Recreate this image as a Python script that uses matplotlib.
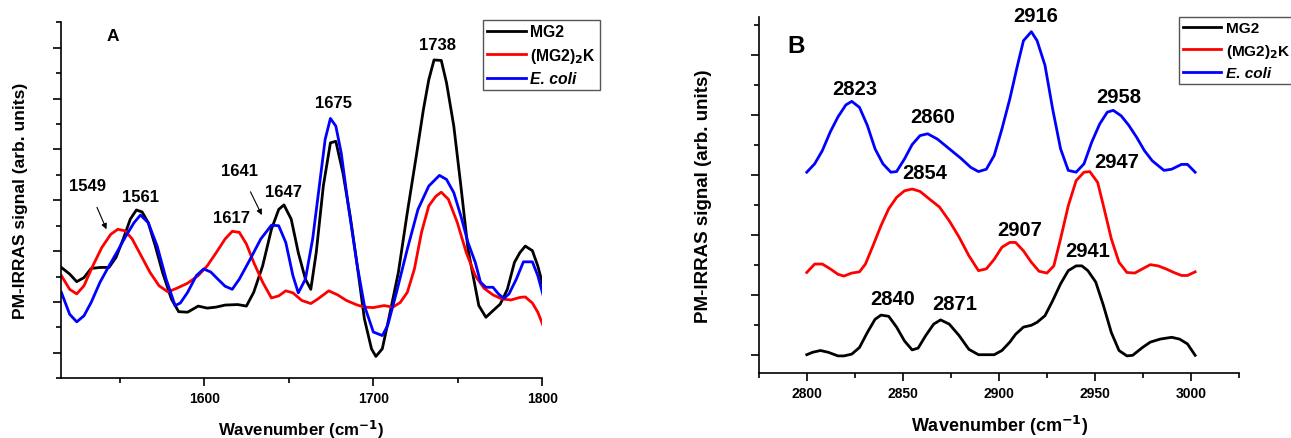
import matplotlib.pyplot as plt
from matplotlib.ticker import MultipleLocator

plt.rcParams['font.family'] = ['Liberation Sans', 'DejaVu Sans']
plt.rcParams['font.weight'] = 'bold'
plt.rcParams['mathtext.default'] = 'regular'

# Panel A: amide / ester region (1515-1800 cm-1)
a_wn_mg2 = [1515.4, 1520.3, 1524.5, 1528.8, 1533.0, 1538.3, 1543.6, 1547.8, 1552.0, 1556.2,
            1559.8, 1563.2, 1566.8, 1571.0, 1575.3, 1580.5, 1584.8, 1590.1, 1596.4, 1601.7,
            1607.0, 1612.3, 1619.7, 1624.9, 1629.2, 1634.5, 1639.7, 1644.0, 1647.1, 1651.4,
            1655.6, 1659.8, 1663.0, 1666.2, 1670.4, 1674.6, 1677.8, 1682.0, 1686.3, 1690.5,
            1694.7, 1698.9, 1701.5, 1705.3, 1709.5, 1714.8, 1720.1, 1725.4, 1729.6, 1732.8,
            1735.9, 1740.2, 1743.3, 1747.6, 1751.8, 1756.0, 1762.4, 1766.6, 1770.8, 1775.1,
            1779.3, 1783.5, 1786.7, 1789.9, 1794.1, 1797.3, 1800.4]
a_mg2 = [1.68, 1.55, 1.40, 1.48, 1.66, 1.68, 1.68, 1.88, 2.24, 2.63,
         2.81, 2.77, 2.56, 2.10, 1.58, 1.06, 0.81, 0.80, 0.92, 0.88,
         0.90, 0.94, 0.95, 0.92, 1.19, 1.71, 2.43, 2.82, 2.91, 2.63,
         1.97, 1.45, 1.25, 1.97, 3.28, 4.13, 4.16, 3.54, 2.69, 1.71,
         0.67, 0.08, -0.07, 0.08, 0.73, 1.58, 2.76, 3.87, 4.78, 5.37,
         5.76, 5.75, 5.31, 4.46, 3.28, 2.04, 0.93, 0.70, 0.83, 0.96,
         1.25, 1.78, 1.97, 2.10, 2.01, 1.71, 1.32]

a_wn_k = [1515.4, 1520.3, 1524.5, 1528.8, 1534.0, 1539.3, 1544.6, 1548.8, 1553.1, 1557.3,
          1562.6, 1567.9, 1573.2, 1578.4, 1583.7, 1590.1, 1596.4, 1601.7, 1607.0, 1612.3,
          1616.5, 1620.7, 1624.9, 1629.2, 1634.5, 1639.7, 1644.0, 1648.2, 1652.4, 1657.7,
          1663.0, 1667.2, 1673.6, 1678.9, 1684.1, 1690.5, 1694.7, 1700.0, 1706.3, 1711.6,
          1715.9, 1720.1, 1724.3, 1728.5, 1732.8, 1737.0, 1740.2, 1744.4, 1749.7, 1755.0,
          1760.3, 1765.5, 1770.8, 1776.1, 1781.4, 1786.7, 1789.9, 1794.1, 1797.3, 1800.4]
a_k = [1.52, 1.25, 1.16, 1.32, 1.71, 2.07, 2.33, 2.43, 2.40, 2.24,
       1.91, 1.58, 1.32, 1.20, 1.27, 1.37, 1.52, 1.71, 1.97, 2.24,
       2.39, 2.37, 2.14, 1.78, 1.39, 1.08, 1.12, 1.22, 1.18, 1.03,
       0.97, 1.06, 1.22, 1.14, 1.03, 0.94, 0.90, 0.89, 0.93, 0.90,
       0.99, 1.19, 1.65, 2.37, 2.89, 3.08, 3.16, 3.02, 2.56, 1.97,
       1.52, 1.27, 1.14, 1.06, 1.04, 1.09, 1.10, 0.98, 0.80, 0.54]

a_wn_ecoli = [1515.4, 1520.3, 1524.5, 1528.8, 1533.0, 1538.3, 1543.6, 1548.8, 1553.1, 1558.4,
              1562.2, 1566.8, 1572.1, 1577.4, 1582.7, 1585.8, 1590.1, 1595.3, 1599.6, 1603.8,
              1608.0, 1612.3, 1616.5, 1620.7, 1627.1, 1633.4, 1639.7, 1644.0, 1648.2, 1652.4,
              1655.6, 1659.8, 1664.1, 1668.3, 1671.5, 1674.6, 1677.8, 1681.0, 1685.2, 1690.5,
              1694.7, 1700.0, 1705.3, 1708.5, 1713.7, 1720.1, 1726.4, 1732.8, 1739.1, 1743.3,
              1747.6, 1751.8, 1756.0, 1760.3, 1763.4, 1766.6, 1770.8, 1774.0, 1777.2, 1780.3,
              1784.6, 1788.8, 1794.1, 1797.3, 1800.4]
a_ecoli = [1.19, 0.76, 0.61, 0.73, 0.99, 1.39, 1.71, 2.01, 2.27, 2.56,
           2.71, 2.56, 2.10, 1.45, 0.93, 0.98, 1.19, 1.52, 1.65, 1.59,
           1.45, 1.31, 1.25, 1.45, 1.84, 2.24, 2.51, 2.50, 2.17, 1.52,
           1.18, 1.45, 2.24, 3.35, 4.20, 4.61, 4.46, 3.93, 2.89, 1.71,
           0.93, 0.41, 0.34, 0.54, 1.19, 2.04, 2.82, 3.28, 3.49, 3.41,
           3.15, 2.69, 2.17, 1.78, 1.39, 1.29, 1.29, 1.16, 1.07, 1.16,
           1.45, 1.79, 1.79, 1.52, 1.14]

# peak labels panel A: (text, x, y)
a_labels = [('1738', 1738.0, 6.06), ('1675', 1676.7, 4.93), ('1647', 1646.7, 3.18),
            ('1617', 1616.1, 2.66), ('1561', 1562.2, 3.07)]
# labels with arrows: (text, text x, text y, arrow tip x, arrow tip y)
a_arrows = [('1549', 1530.9, 3.29, 1542.1, 2.43), ('1641', 1621.1, 3.59, 1634.0, 2.71)]

# Panel B: CH stretching region (2800-3000 cm-1)
b_wn_mg2 = [2800.0, 2803.0, 2807.1, 2811.2, 2816.2, 2819.3, 2823.4, 2827.4, 2831.5, 2835.5,
            2838.6, 2842.6, 2846.7, 2850.8, 2854.8, 2857.9, 2861.9, 2866.0, 2869.6, 2874.1,
            2879.2, 2884.3, 2889.3, 2893.4, 2897.5, 2901.5, 2905.6, 2908.6, 2912.7, 2916.8,
            2919.8, 2923.9, 2927.9, 2932.0, 2936.0, 2940.1, 2943.1, 2946.2, 2950.3, 2954.3,
            2958.4, 2962.4, 2966.5, 2969.5, 2974.6, 2978.7, 2983.8, 2989.8, 2993.9, 2998.0,
            3002.0]
b_mg2 = [0.00, 0.04, 0.07, 0.04, -0.02, -0.02, 0.01, 0.12, 0.37, 0.59,
         0.66, 0.64, 0.46, 0.23, 0.08, 0.11, 0.32, 0.51, 0.58, 0.51,
         0.32, 0.09, 0.00, 0.00, 0.00, 0.07, 0.21, 0.34, 0.46, 0.49,
         0.54, 0.65, 0.90, 1.18, 1.40, 1.48, 1.48, 1.40, 1.21, 0.82,
         0.37, 0.07, -0.02, -0.01, 0.12, 0.21, 0.26, 0.29, 0.26, 0.18,
         -0.01]

b_wn_k = [2800.0, 2804.1, 2808.1, 2812.2, 2816.2, 2819.3, 2823.4, 2827.4, 2830.5, 2834.5,
          2838.6, 2842.6, 2846.7, 2850.8, 2854.8, 2858.9, 2863.9, 2869.0, 2874.1, 2879.2,
          2884.3, 2889.3, 2893.4, 2897.5, 2901.5, 2905.6, 2908.6, 2912.7, 2916.8, 2920.8,
          2924.9, 2928.5, 2932.0, 2936.0, 2940.1, 2944.2, 2947.2, 2951.3, 2954.3, 2958.4,
          2962.4, 2966.5, 2970.6, 2974.6, 2978.7, 2982.7, 2986.8, 2990.9, 2994.9, 2998.0,
          3002.0]
b_k = [1.37, 1.51, 1.51, 1.43, 1.34, 1.31, 1.36, 1.38, 1.51, 1.82,
       2.15, 2.43, 2.62, 2.73, 2.76, 2.72, 2.59, 2.46, 2.23, 1.96,
       1.65, 1.40, 1.43, 1.59, 1.79, 1.87, 1.87, 1.73, 1.54, 1.39,
       1.36, 1.48, 1.93, 2.48, 2.90, 3.04, 3.05, 2.87, 2.48, 1.93,
       1.54, 1.37, 1.36, 1.43, 1.50, 1.48, 1.43, 1.37, 1.32, 1.32,
       1.38]

b_wn_ecoli = [2800.0, 2804.1, 2808.1, 2812.2, 2816.2, 2820.3, 2823.4, 2827.4, 2831.5, 2835.5,
              2839.6, 2843.7, 2846.7, 2850.8, 2854.8, 2858.9, 2862.9, 2868.0, 2874.1, 2880.2,
              2885.3, 2889.3, 2893.4, 2897.5, 2901.5, 2905.6, 2909.6, 2912.7, 2916.8, 2919.8,
              2923.9, 2927.9, 2932.0, 2936.0, 2940.1, 2944.2, 2948.2, 2952.3, 2956.3, 2959.4,
              2963.5, 2967.5, 2971.6, 2975.6, 2979.7, 2985.8, 2989.8, 2994.9, 2998.0, 3002.0]
b_ecoli = [3.04, 3.18, 3.40, 3.71, 3.96, 4.16, 4.22, 4.12, 3.82, 3.43,
           3.18, 3.04, 3.05, 3.26, 3.50, 3.65, 3.68, 3.59, 3.43, 3.27,
           3.12, 3.05, 3.09, 3.32, 3.76, 4.26, 4.82, 5.23, 5.38, 5.23,
           4.82, 4.09, 3.43, 3.07, 3.04, 3.18, 3.54, 3.84, 4.04, 4.07,
           3.98, 3.82, 3.62, 3.40, 3.23, 3.07, 3.09, 3.17, 3.17, 3.04]

b_labels = [('2916', 2919.2, 5.65), ('2823', 2824.8, 4.44), ('2860', 2865.6, 3.97),
            ('2958', 2962.4, 4.30), ('2854', 2861.3, 3.03), ('2947', 2961.4, 3.21),
            ('2907', 2910.7, 2.09), ('2941', 2946.2, 1.73), ('2840', 2844.7, 0.93),
            ('2871', 2876.8, 0.86)]

names = ['MG2', r'(MG2)$_\mathbf{2}$K', 'E. coli']
colors = ['black', '#ff0000', '#0000ff']

fig = plt.figure(figsize=(12.91, 4.39), dpi=100)
axA = fig.add_axes([0.0470, 0.1360, 0.3731, 0.8109])
axB = fig.add_axes([0.5877, 0.1487, 0.3723, 0.8096])


def style_axes(ax, fs_x, fs_y, pad):
    ax.spines['top'].set_visible(False)
    ax.spines['right'].set_visible(False)
    for s in ['left', 'bottom']:
        ax.spines[s].set_linewidth(1.2)
    ax.yaxis.set_major_locator(MultipleLocator(1))
    ax.yaxis.set_minor_locator(MultipleLocator(0.5))
    ax.tick_params(axis='y', which='both', labelleft=False)
    ax.tick_params(which='major', direction='out', length=6, width=1.2, labelsize=10)
    ax.tick_params(which='minor', direction='out', length=3.5, width=1.2)
    ax.set_ylabel('PM-IRRAS signal (arb. units)', fontsize=fs_y, fontweight='bold')
    ax.set_xlabel(r'Wavenumber (cm$^{\mathbf{-1}}$)', fontsize=fs_x, fontweight='bold',
                  labelpad=pad)


def add_legend(ax, x, y, lines, fs):
    leg = ax.legend(lines, names, loc='upper left', bbox_to_anchor=(x, y), fontsize=fs,
                    frameon=True, fancybox=False, edgecolor='#555555', framealpha=1,
                    handlelength=2.5, handletextpad=0.3, borderpad=0.25,
                    borderaxespad=0, labelspacing=0.42)
    leg.get_frame().set_linewidth(1.0)
    for t in leg.get_texts():
        t.set_fontweight('bold')
    leg.get_texts()[2].set_style('italic')
    return leg


# Wykres A
la = []
for wn, y, c in [(a_wn_mg2, a_mg2, colors[0]), (a_wn_k, a_k, colors[1]), (a_wn_ecoli, a_ecoli, colors[2])]:
    la.append(axA.plot(wn, y, color=c, lw=2)[0])
axA.set_xlim(1515, 1800)
axA.set_ylim(-0.5, 6.5)
axA.xaxis.set_major_locator(MultipleLocator(100))
axA.xaxis.set_minor_locator(MultipleLocator(50))
style_axes(axA, 12.2, 12.5, 9)
for txt, x, y in a_labels:
    axA.text(x, y, txt, ha='center', va='center', fontsize=12, fontweight='bold')
for txt, x, y, tx, ty in a_arrows:
    axA.annotate(txt, xy=(tx, ty), xytext=(x, y), ha='center', va='center',
                 fontsize=12, fontweight='bold',
                 arrowprops=dict(arrowstyle='-|>', color='black', lw=0.8,
                                 mutation_scale=8, shrinkA=9, shrinkB=0))
axA.text(1545.7, 6.25, 'A', ha='center', va='center', fontsize=12.5, fontweight='bold')
add_legend(axA, 0.876, 1.006, la, 11.3)

# Wykres B
lb = []
for wn, y, c in [(b_wn_mg2, b_mg2, colors[0]), (b_wn_k, b_k, colors[1]), (b_wn_ecoli, b_ecoli, colors[2])]:
    lb.append(axB.plot(wn, y, color=c, lw=2)[0])
axB.set_xlim(2775, 3025)
axB.set_ylim(-0.3, 5.62)
axB.xaxis.set_major_locator(MultipleLocator(50))
axB.xaxis.set_minor_locator(MultipleLocator(25))
style_axes(axB, 13, 13.5, 9)
for txt, x, y in b_labels:
    axB.text(x, y, txt, ha='center', va='center', fontsize=14.5, fontweight='bold')
axB.text(2794.3, 5.15, 'B', ha='center', va='center', fontsize=17.5, fontweight='bold')
add_legend(axB, 0.8746, 1.0, lb, 11.1)

axA.yaxis.set_label_coords(-0.068, 0.5)
axB.yaxis.set_label_coords(-0.097, 0.5)

plt.savefig('out.png', dpi=100)
